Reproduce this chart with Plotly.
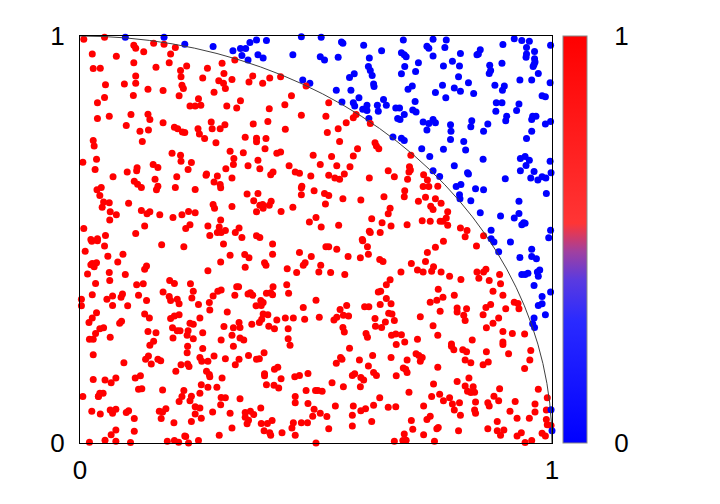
import plotly.graph_objects as go

# Sample points (x, y), grouped by region of the square
region_top_left = [
    (0.008,0.992),(0.052,0.997),(0.114,0.977),(0.118,0.970),(0.156,0.982),(0.178,0.980),(0.202,0.972),(0.135,0.961),
    (0.192,0.956),(0.026,0.956),(0.077,0.950),(0.114,0.934),(0.189,0.934),(0.161,0.923),(0.226,0.926),(0.213,0.915),
    (0.270,0.921),(0.301,0.933),(0.028,0.920),(0.043,0.921),(0.118,0.902),(0.214,0.900),(0.260,0.897),(0.305,0.908),
    (0.322,0.893),(0.054,0.880),(0.094,0.882),(0.118,0.884),(0.216,0.879),(0.219,0.871),(0.294,0.890),(0.304,0.884),
    (0.308,0.871),(0.144,0.869),(0.176,0.866),(0.210,0.853),(0.284,0.862),(0.113,0.854),(0.052,0.849),(0.037,0.836),
    (0.251,0.846),(0.233,0.828),(0.244,0.828),(0.256,0.830),(0.311,0.828),(0.332,0.823),(0.108,0.807),(0.144,0.808),
    (0.148,0.795),(0.037,0.797),(0.062,0.803),(0.176,0.787),(0.278,0.789),(0.307,0.782),(0.098,0.780),(0.127,0.766),
    (0.145,0.769),(0.200,0.776),(0.207,0.772),(0.217,0.764),(0.222,0.763),(0.250,0.772),(0.253,0.759),(0.280,0.772),
    (0.297,0.772),(0.328,0.941),
    (0.096,0.997),(0.178,0.997),(0.222,0.980),(0.282,0.974),(0.324,0.964),
]
region_top_mid = [
    (0.360,0.984),(0.374,0.990),(0.395,0.989),(0.469,0.998),(0.511,0.997),(0.554,0.985),(0.557,0.982),(0.601,0.977),
    (0.639,0.964),(0.340,0.969),(0.351,0.969),(0.343,0.952),(0.356,0.941),(0.377,0.954),(0.388,0.946),(0.451,0.954),
    (0.509,0.949),(0.518,0.941),(0.547,0.948),(0.613,0.946),(0.611,0.925),(0.615,0.915),(0.619,0.903),(0.571,0.898),
    (0.581,0.907),(0.622,0.882),(0.623,0.876),(0.472,0.892),(0.487,0.884),(0.543,0.867),(0.574,0.867),(0.591,0.848),
    (0.555,0.838),(0.579,0.836),(0.582,0.828),(0.608,0.830),(0.630,0.830),(0.643,0.844),(0.649,0.830),(0.599,0.820),
    (0.608,0.817),(0.632,0.815),(0.669,0.823),(0.673,0.797),(0.612,0.797),
    (0.366,0.902),(0.358,0.887),(0.387,0.884),(0.402,0.897),(0.425,0.900),(0.479,0.877),(0.448,0.853),(0.434,0.831),
    (0.340,0.841),(0.401,0.821),(0.527,0.836),(0.469,0.805),(0.521,0.803),(0.367,0.784),(0.398,0.790),(0.435,0.771),
    (0.564,0.787),(0.547,0.772),(0.579,0.799),(0.585,0.807),(0.615,0.785),(0.524,0.763),
]
region_top_right = [
    (0.685,0.990),(0.748,0.992),(0.776,0.990),(0.773,0.972),(0.735,0.975),(0.739,0.970),(0.681,0.959),(0.687,0.954),
    (0.691,0.949),(0.748,0.951),(0.806,0.957),(0.844,0.956),(0.848,0.966),(0.841,0.954),(0.896,0.979),(0.920,0.993),
    (0.936,0.989),(0.952,0.987),(0.946,0.972),(0.963,0.962),(0.997,0.977),(0.946,0.956),(0.945,0.948),(0.963,0.944),
    (0.962,0.930),(0.960,0.925),(0.964,0.936),(0.688,0.925),(0.717,0.934),(0.681,0.907),(0.711,0.913),(0.770,0.926),
    (0.789,0.938),(0.804,0.926),(0.868,0.928),(0.870,0.915),(0.867,0.908),(0.894,0.933),(0.971,0.908),(0.957,0.892),
    (0.932,0.892),(0.996,0.885),(0.802,0.900),(0.823,0.885),(0.768,0.879),(0.793,0.872),(0.806,0.864),(0.834,0.859),
    (0.753,0.861),(0.775,0.848),(0.879,0.879),(0.899,0.877),(0.895,0.867),(0.695,0.869),(0.704,0.877),(0.979,0.853),
    (0.986,0.851),(0.710,0.839),(0.882,0.836),(0.894,0.836),(0.930,0.833),(0.705,0.818),(0.712,0.813),(0.881,0.815),
    (0.925,0.817),(0.677,0.823),(0.687,0.807),(0.678,0.795),(0.904,0.803),(0.902,0.792),(0.959,0.803),(0.966,0.803),
    (0.957,0.795),(0.727,0.789),(0.739,0.785),(0.748,0.795),(0.753,0.787),(0.735,0.769),(0.785,0.782),(0.786,0.766),
    (0.830,0.792),(0.828,0.777),(0.864,0.784),(0.855,0.766),(0.986,0.784),(0.997,0.790),(0.957,0.766),
]
region_upper_left = [
    (0.028,0.743),(0.030,0.730),(0.132,0.741),(0.006,0.690),(0.035,0.697),(0.032,0.672),(0.100,0.666),(0.070,0.654),
    (0.121,0.676),(0.120,0.669),(0.155,0.684),(0.165,0.677),(0.159,0.648),(0.115,0.643),(0.122,0.636),(0.130,0.628),
    (0.165,0.631),(0.162,0.622),(0.202,0.628),(0.205,0.654),(0.195,0.712),(0.213,0.707),(0.214,0.692),(0.236,0.689),
    (0.229,0.672),(0.244,0.623),(0.264,0.748),(0.288,0.738),(0.318,0.717),(0.326,0.699),(0.325,0.684),(0.309,0.674),
    (0.268,0.661),(0.267,0.658),(0.291,0.656),(0.322,0.651),(0.284,0.641),(0.297,0.635),(0.298,0.627),(0.036,0.622),
    (0.045,0.628),(0.042,0.608),(0.050,0.592),(0.062,0.590),(0.047,0.579),(0.064,0.568),(0.077,0.561),(0.063,0.548),
    (0.103,0.589),(0.130,0.571),(0.142,0.563),(0.148,0.568),(0.169,0.561),(0.137,0.533),(0.118,0.515),(0.197,0.554),
    (0.216,0.561),(0.230,0.569),(0.244,0.566),(0.282,0.586),(0.285,0.577),(0.322,0.581),(0.298,0.548),(0.271,0.533),
    (0.224,0.527),(0.233,0.536),(0.008,0.527),(0.054,0.510),(0.023,0.500),(0.037,0.502),(0.295,0.531),(0.291,0.517),
    (0.299,0.517),(0.308,0.522),(0.329,0.517),(0.275,0.510),
]
region_upper_mid = [
    (0.350,0.751),(0.374,0.749),(0.374,0.740),(0.394,0.748),(0.346,0.713),(0.392,0.723),(0.417,0.712),(0.425,0.715),
    (0.377,0.695),(0.356,0.681),(0.381,0.674),(0.404,0.659),(0.409,0.666),(0.443,0.681),(0.456,0.666),(0.465,0.663),
    (0.489,0.656),(0.494,0.707),(0.509,0.684),(0.533,0.704),(0.544,0.681),(0.550,0.741),(0.588,0.723),(0.579,0.705),
    (0.572,0.679),(0.560,0.661),(0.527,0.658),(0.540,0.651),(0.550,0.648),(0.625,0.738),(0.628,0.730),(0.633,0.723),
    (0.613,0.651),(0.653,0.669),(0.666,0.654),(0.469,0.627),(0.470,0.631),(0.469,0.610),(0.496,0.620),(0.518,0.613),
    (0.527,0.608),(0.557,0.600),(0.595,0.597),(0.644,0.605),(0.354,0.612),(0.377,0.613),(0.368,0.595),(0.381,0.584),
    (0.388,0.577),(0.387,0.586),(0.401,0.584),(0.405,0.594),(0.374,0.568),(0.426,0.569),(0.451,0.579),(0.520,0.587),
    (0.657,0.577),(0.653,0.563),(0.500,0.554),(0.486,0.543),(0.511,0.531),(0.548,0.535),(0.618,0.551),(0.640,0.541),
    (0.659,0.533),(0.615,0.517),(0.613,0.520),(0.636,0.517),(0.337,0.528),(0.343,0.505),(0.374,0.509),(0.381,0.505),
    (0.598,0.500),(0.663,0.752),
]
region_upper_right = [
    (0.701,0.707),(0.698,0.679),(0.700,0.671),(0.697,0.666),(0.694,0.648),(0.728,0.659),(0.736,0.646),(0.727,0.630),
    (0.739,0.630),(0.758,0.631),(0.688,0.620),(0.687,0.605),(0.732,0.604),(0.753,0.600),(0.765,0.589),(0.743,0.582),
    (0.748,0.574),(0.717,0.594),(0.779,0.568),(0.776,0.553),(0.769,0.545),(0.763,0.545),(0.779,0.535),(0.725,0.546),
    (0.742,0.545),(0.693,0.536),(0.806,0.528),(0.820,0.522),(0.816,0.507),(0.855,0.509),
    (0.681,0.749),(0.687,0.743),(0.785,0.746),(0.813,0.741),(0.946,0.748),(0.724,0.723),(0.770,0.722),(0.817,0.720),
    (0.741,0.704),(0.854,0.697),(0.933,0.699),(0.943,0.704),(0.952,0.695),(0.945,0.682),(0.933,0.669),(0.996,0.692),
    (0.998,0.664),(0.748,0.669),(0.793,0.681),(0.821,0.664),(0.823,0.661),(0.762,0.655),(0.901,0.649),(0.955,0.651),
    (0.962,0.667),(0.970,0.646),(0.979,0.654),(0.987,0.651),(0.797,0.630),(0.807,0.635),(0.838,0.625),(0.855,0.622),
    (0.804,0.610),(0.805,0.600),(0.828,0.595),(0.988,0.613),(0.930,0.594),(0.848,0.566),(0.891,0.558),(0.920,0.553),
    (0.930,0.564),(0.936,0.536),(0.940,0.541),(0.943,0.540),(0.871,0.523),(0.997,0.523),(0.871,0.502),(0.993,0.504),
]
region_lower_left = [
    (0.025,0.496),(0.037,0.497),(0.052,0.484),(0.011,0.471),(0.059,0.459),(0.091,0.464),(0.080,0.445),(0.026,0.441),
    (0.030,0.433),(0.023,0.438),(0.035,0.443),(0.016,0.415),(0.062,0.419),(0.063,0.399),(0.096,0.414),(0.033,0.392),
    (0.137,0.427),(0.141,0.435),(0.120,0.389),(0.134,0.391),(0.173,0.487),(0.220,0.482),(0.304,0.489),(0.318,0.461),
    (0.298,0.445),(0.271,0.423),(0.190,0.399),(0.200,0.392),(0.234,0.391),(0.240,0.373),(0.237,0.356),(0.176,0.371),
    (0.189,0.360),(0.192,0.350),(0.206,0.353),(0.210,0.342),(0.251,0.340),(0.274,0.345),(0.275,0.327),(0.282,0.361),
    (0.292,0.373),(0.299,0.376),(0.328,0.363),(0.332,0.384),(0.312,0.322),(0.003,0.353),(0.003,0.337),(0.026,0.364),
    (0.057,0.353),(0.069,0.361),(0.069,0.338),(0.087,0.358),(0.090,0.366),(0.101,0.337),(0.124,0.363),(0.141,0.350),
    (0.035,0.320),(0.026,0.307),(0.019,0.296),(0.042,0.281),(0.050,0.283),(0.033,0.269),(0.084,0.294),(0.088,0.299),
    (0.137,0.317),(0.147,0.307),(0.192,0.306),(0.200,0.312),(0.210,0.315),(0.254,0.307),(0.233,0.294),(0.240,0.292),
    (0.196,0.283),(0.206,0.276),(0.212,0.276),(0.144,0.274),(0.161,0.271),(0.229,0.276),(0.227,0.265),(0.240,0.256),
    (0.260,0.271),(0.305,0.286),(0.325,0.283),(0.322,0.265),(0.020,0.255),(0.028,0.255),(0.064,0.260),(0.156,0.250),
    (0.197,0.258),(0.299,0.253),
]
region_lower_mid = [
    (0.408,0.489),(0.521,0.482),(0.527,0.482),(0.544,0.476),(0.599,0.497),(0.609,0.482),(0.349,0.463),(0.358,0.455),
    (0.408,0.464),(0.465,0.468),(0.490,0.458),(0.350,0.432),(0.391,0.443),(0.394,0.437),(0.439,0.428),(0.459,0.419),
    (0.473,0.437),(0.477,0.443),(0.506,0.420),(0.510,0.437),(0.531,0.419),(0.561,0.414),(0.568,0.458),(0.594,0.455),
    (0.611,0.464),(0.635,0.451),(0.642,0.446),(0.336,0.384),(0.356,0.366),(0.361,0.369),(0.366,0.363),(0.395,0.368),
    (0.404,0.369),(0.408,0.364),(0.409,0.384),(0.438,0.389),(0.442,0.368),(0.373,0.337),(0.383,0.350),(0.384,0.338),
    (0.388,0.345),(0.500,0.351),(0.473,0.333),(0.565,0.338),(0.551,0.328),(0.603,0.335),(0.612,0.335),(0.632,0.371),
    (0.637,0.373),(0.649,0.355),(0.657,0.401),(0.649,0.389),(0.636,0.340),(0.659,0.342),(0.388,0.317),(0.398,0.315),
    (0.385,0.304),(0.380,0.296),(0.417,0.302),(0.435,0.307),(0.452,0.307),(0.476,0.304),(0.507,0.309),(0.538,0.302),
    (0.544,0.309),(0.558,0.314),(0.569,0.312),(0.625,0.306),(0.647,0.297),(0.666,0.301),(0.654,0.319),(0.661,0.317),
    (0.364,0.292),(0.400,0.287),(0.412,0.281),(0.441,0.281),(0.337,0.296),(0.339,0.284),(0.557,0.284),(0.560,0.273),
    (0.606,0.269),(0.609,0.260),(0.626,0.287),(0.639,0.284),(0.660,0.265),(0.669,0.268),(0.441,0.256),(0.347,0.253),
    (0.339,0.258),
]
region_lower_right = [
    (0.770,0.496),(0.753,0.481),(0.736,0.468),(0.732,0.446),(0.702,0.441),(0.715,0.425),(0.727,0.420),(0.745,0.422),
    (0.749,0.433),(0.765,0.420),(0.680,0.420),(0.783,0.410),(0.807,0.402),(0.840,0.484),(0.841,0.420),(0.845,0.405),
    (0.855,0.420),(0.860,0.427),(0.867,0.399),(0.889,0.414),(0.891,0.391),(0.875,0.373),(0.896,0.363),(0.759,0.378),
    (0.769,0.358),(0.756,0.351),(0.742,0.346),(0.793,0.363),(0.763,0.324),(0.799,0.332),(0.799,0.322),(0.819,0.330),
    (0.813,0.314),(0.816,0.301),(0.721,0.310),(0.748,0.288),(0.758,0.265),(0.681,0.266),(0.715,0.255),(0.688,0.248),
    (0.787,0.243),(0.831,0.253),(0.854,0.315),(0.860,0.333),(0.870,0.340),(0.887,0.307),(0.902,0.330),(0.920,0.346),
    (0.928,0.343),(0.930,0.330),(0.861,0.283),(0.875,0.294),(0.896,0.274),(0.916,0.269),(0.942,0.268),(0.896,0.248),
    (0.877,0.494),(0.912,0.494),(0.887,0.470),(0.932,0.456),(0.957,0.476),(0.957,0.458),(0.967,0.453),(0.936,0.414),
    (0.943,0.414),(0.949,0.417),(0.969,0.420),(0.974,0.425),(0.971,0.410),(0.962,0.387),(0.997,0.371),(0.979,0.360),
    (0.971,0.338),(0.979,0.342),(0.986,0.315),(0.962,0.307),(0.959,0.293),(0.963,0.284),
]
region_bottom_left = [
    (0.028,0.217),(0.093,0.197),(0.148,0.240),(0.145,0.214),(0.139,0.206),(0.165,0.206),(0.171,0.202),(0.151,0.194),
    (0.028,0.156),(0.053,0.155),(0.066,0.148),(0.076,0.160),(0.117,0.160),(0.128,0.165),(0.124,0.132),(0.131,0.133),
    (0.175,0.130),(0.203,0.176),(0.214,0.192),(0.228,0.238),(0.227,0.222),(0.228,0.194),(0.231,0.188),(0.260,0.232),
    (0.254,0.210),(0.258,0.201),(0.271,0.201),(0.284,0.214),(0.308,0.207),(0.325,0.238),(0.329,0.192),(0.268,0.176),
    (0.274,0.168),(0.275,0.163),(0.301,0.160),(0.257,0.143),(0.271,0.137),(0.290,0.137),(0.220,0.129),(0.216,0.114),
    (0.210,0.102),(0.236,0.115),(0.233,0.104),(0.254,0.122),(0.299,0.112),(0.308,0.111),(0.298,0.094),(0.318,0.073),
    (0.281,0.076),(0.244,0.089),(0.254,0.086),(0.257,0.061),(0.244,0.071),(0.236,0.053),(0.199,0.050),(0.182,0.084),
    (0.175,0.076),(0.168,0.078),(0.172,0.060),(0.006,0.114),(0.039,0.115),(0.042,0.122),(0.049,0.122),(0.039,0.114),
    (0.025,0.078),(0.043,0.071),(0.064,0.081),(0.069,0.073),(0.076,0.083),(0.098,0.075),(0.103,0.079),(0.115,0.060),
    (0.115,0.029),(0.076,0.032),(0.066,0.020),(0.053,0.007),(0.020,0.002),(0.076,0.004),(0.107,0.001),(0.185,0.004),
    (0.200,0.006),(0.209,0.002),(0.222,0.017),(0.224,0.016),(0.230,0.000),(0.251,0.006),(0.295,0.019),(0.322,0.037),
]
region_bottom_mid = [
    (0.445,0.240),(0.337,0.206),(0.357,0.215),(0.374,0.206),(0.380,0.207),(0.390,0.222),(0.571,0.233),(0.670,0.242),
    (0.552,0.210),(0.555,0.206),(0.543,0.196),(0.592,0.204),(0.620,0.215),(0.659,0.210),(0.611,0.189),(0.622,0.173),
    (0.628,0.166),(0.670,0.165),(0.412,0.181),(0.419,0.186),(0.426,0.158),(0.391,0.170),(0.391,0.165),(0.395,0.143),
    (0.411,0.142),(0.421,0.135),(0.455,0.163),(0.465,0.166),(0.483,0.171),(0.534,0.148),(0.558,0.138),(0.577,0.166),
    (0.582,0.170),(0.595,0.161),(0.601,0.155),(0.594,0.138),(0.479,0.129),(0.499,0.129),(0.504,0.129),(0.513,0.127),
    (0.456,0.114),(0.456,0.099),(0.483,0.097),(0.496,0.083),(0.493,0.066),(0.509,0.073),(0.523,0.065),(0.541,0.091),
    (0.579,0.091),(0.577,0.068),(0.595,0.079),(0.605,0.084),(0.622,0.093),(0.635,0.111),(0.653,0.088),(0.669,0.089),
    (0.618,0.053),(0.577,0.042),(0.527,0.035),(0.339,0.109),(0.383,0.086),(0.350,0.075),(0.350,0.063),(0.361,0.078),
    (0.368,0.070),(0.354,0.047),(0.357,0.056),(0.384,0.048),(0.397,0.048),(0.407,0.055),(0.452,0.050),(0.449,0.037),
    (0.469,0.050),(0.482,0.050),(0.390,0.030),(0.402,0.025),(0.404,0.019),(0.428,0.025),(0.456,0.019),(0.500,0.000),
    (0.666,0.004),
]
region_bottom_right = [
    (0.787,0.238),(0.792,0.229),(0.811,0.229),(0.819,0.224),(0.861,0.224),(0.896,0.242),(0.908,0.219),(0.955,0.227),
    (0.953,0.204),(0.942,0.183),(0.712,0.219),(0.718,0.215),(0.725,0.210),(0.721,0.201),(0.693,0.204),(0.685,0.184),
    (0.690,0.181),(0.693,0.173),(0.758,0.186),(0.816,0.204),(0.828,0.197),(0.854,0.192),(0.865,0.199),(0.824,0.160),
    (0.799,0.151),(0.749,0.145),(0.816,0.140),(0.833,0.138),(0.821,0.127),(0.828,0.124),(0.836,0.125),(0.762,0.120),
    (0.745,0.114),(0.783,0.111),(0.770,0.104),(0.789,0.096),(0.804,0.099),(0.838,0.101),(0.864,0.099),(0.867,0.091),
    (0.877,0.115),(0.887,0.104),(0.889,0.133),(0.922,0.102),(0.964,0.096),(0.971,0.132),(0.990,0.111),(0.728,0.091),
    (0.793,0.081),(0.806,0.068),(0.836,0.081),(0.838,0.073),(0.911,0.078),(0.926,0.061),(0.952,0.061),(0.964,0.076),
    (0.988,0.081),(0.742,0.066),(0.735,0.058),(0.702,0.055),(0.705,0.034),(0.728,0.020),(0.687,0.022),(0.684,0.006),
    (0.691,0.007),(0.751,0.004),(0.756,0.035),(0.759,0.038),(0.802,0.030),(0.864,0.035),(0.884,0.053),(0.884,0.030),
    (0.891,0.019),(0.898,0.032),(0.926,0.017),(0.935,0.025),(0.943,0.001),(0.957,0.006),(0.979,0.024),(0.986,0.017),
    (0.988,0.058),(0.990,0.045),(0.998,0.043),(0.697,0.125),
    (0.998,0.082),(1.000,0.030),
]

regions = [region_top_left, region_top_mid, region_top_right,
           region_upper_left, region_upper_mid, region_upper_right,
           region_lower_left, region_lower_mid, region_lower_right,
           region_bottom_left, region_bottom_mid, region_bottom_right]

xs = [p[0] for r in regions for p in r]
ys = [p[1] for r in regions for p in r]
# colour value: 1 inside the unit circle, 0 outside
inside = [1 if x * x + y * y <= 1 else 0 for x, y in zip(xs, ys)]

tick_vals = [0, 1]
tick_text = ["0", "1"]

FONT = "Liberation Sans, Arial, sans-serif"

colorscale = [
    [0.0, "#0000ff"],
    [0.30, "#2a2aff"],
    [0.40, "#5a3ae0"],
    [0.47, "#a040a0"],
    [0.54, "#ff3535"],
    [1.0, "#ff0000"],
]

fig = go.Figure()
fig.add_trace(go.Scatter(
    x=xs, y=ys, mode="markers",
    cliponaxis=False,
    marker=dict(
        size=7, color=inside, cmin=0, cmax=1, colorscale=colorscale,
        line=dict(width=0),
        showscale=True,
        colorbar=dict(
            x=1.0233, xanchor="left", xref="paper", xpad=0,
            y=0.5, yanchor="middle", len=1.0, lenmode="fraction", ypad=0,
            thickness=24, thicknessmode="pixels",
            outlinewidth=1, outlinecolor="#888888",
            tickvals=tick_vals, ticktext=tick_text,
            ticks="outside", ticklen=22, tickcolor="rgba(0,0,0,0)",
            tickfont=dict(family=FONT, size=26, color="black"),
        ),
    ),
    hoverinfo="skip", showlegend=False,
))

fig.add_shape(type="circle", xref="x", yref="y", x0=-1, y0=-1, x1=1, y1=1,
              line=dict(color="#404040", width=1), layer="above")

fig.update_xaxes(range=[0, 1], showgrid=False, zeroline=False,
                 showline=True, mirror=True, linecolor="black", linewidth=1,
                 tickvals=tick_vals, ticktext=tick_text,
                 ticks="outside", ticklen=4, tickcolor="rgba(0,0,0,0)",
                 tickfont=dict(family=FONT, size=26, color="black"))
fig.update_yaxes(range=[0, 1], showgrid=False, zeroline=False,
                 showline=True, mirror=True, linecolor="black", linewidth=1,
                 tickvals=tick_vals, ticktext=tick_text,
                 ticks="outside", ticklen=9, tickcolor="rgba(0,0,0,0)",
                 tickfont=dict(family=FONT, size=26, color="black"))

# page body adds an 8px offset, so the figure is 8px smaller on each side
fig.update_layout(
    width=712, height=496,
    margin=dict(l=72, r=168, t=28, b=61),
    plot_bgcolor="white", paper_bgcolor="white",
    font=dict(family=FONT),
)

fig.write_html("out.html")
